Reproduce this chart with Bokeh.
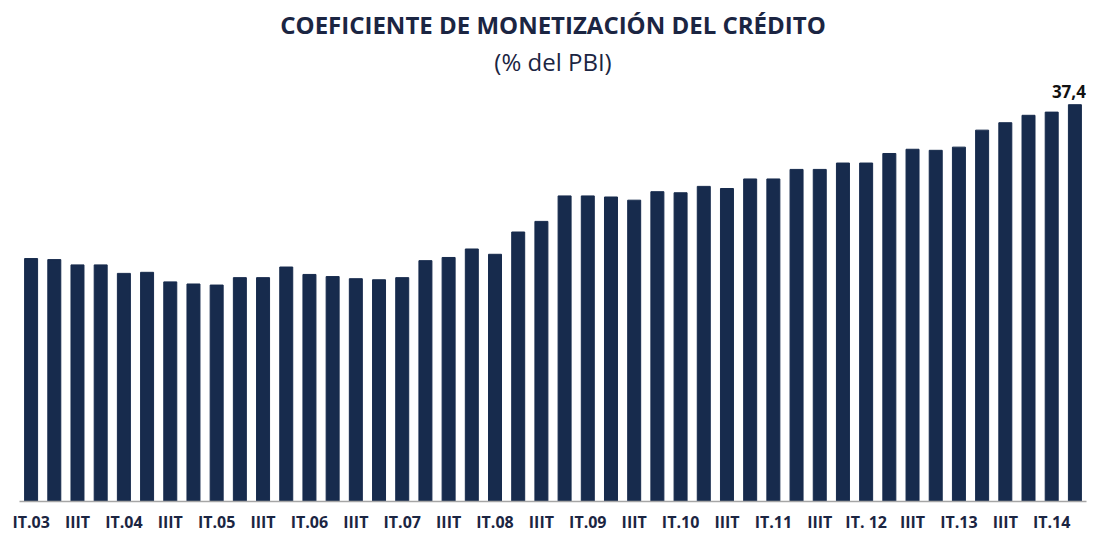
from bokeh.plotting import figure
from bokeh.models import Title, ColumnDataSource, Range1d, FixedTicker, LabelSet
from bokeh.core.properties import value
from bokeh.embed import file_html
from bokeh.resources import INLINE

years = ["03", "04", "05", "06", "07", "08", "09", "10", "11", "12", "13", "14"]
quarters = ["IT", "IIT", "IIIT", "IVT"]
categories = [f"{q}.{y}" for y in years for q in quarters][:46]

values = [22.9, 22.8, 22.3, 22.3, 21.5, 21.6, 20.7, 20.5, 20.4, 21.1, 21.1, 22.1,
          21.4, 21.2, 21.0, 20.9, 21.1, 22.7, 23.0, 23.8, 23.3, 25.4, 26.4, 28.8,
          28.8, 28.7, 28.4, 29.2, 29.1, 29.7, 29.5, 30.4, 30.4, 31.3, 31.3, 31.9,
          31.9, 32.8, 33.2, 33.1, 33.4, 35.0, 35.7, 36.4, 36.7, 37.4]

# tick labels shown every other quarter (IT and IIIT)
tick_labels = {}
for i, c in enumerate(categories):
    q, y = c.split(".")
    if q == "IT":
        tick_labels[i] = "IT. 12" if y == "12" else f"IT.{y}"
    elif q == "IIIT":
        tick_labels[i] = "IIIT"

title_text = "COEFICIENTE DE MONETIZACIÓN DEL CRÉDITO"
subtitle_text = "(% del PBI)"
last_label = "37,4"

NAVY = "#172b4d"
TEXT = "#1b2542"

xs = list(range(len(categories)))
src = ColumnDataSource(dict(x=xs, cat=categories, val=values))
lab = ColumnDataSource(dict(x=[xs[-1]], val=[values[-1]], txt=[last_label]))

p = figure(width=1094, height=535, x_range=Range1d(-0.5, len(categories) - 0.5),
           y_range=Range1d(0, 39.68), output_backend="svg", toolbar_location=None,
           min_border_left=19, min_border_right=8, min_border_top=80, min_border_bottom=34)

p.add_layout(Title(text=subtitle_text, align="center", text_font="Open Sans",
                   text_font_size="24px", text_font_style="normal", text_color=TEXT,
                   standoff=5), "above")
p.add_layout(Title(text=title_text, align="center", text_font="Open Sans",
                   text_font_size="24px", text_font_style="bold", text_color=TEXT,
                   standoff=0), "above")

p.vbar(x="x", top="val", width=0.56, source=src, color=NAVY)
p.add_layout(LabelSet(x="x", y="val", text="txt", source=lab, text_align="center",
                      text_baseline="bottom", y_offset=7, x_offset=-6,
                      text_font=value("Open Sans"), text_font_size=value("17px"),
                      text_font_style="bold", text_color="#111111"))

p.yaxis.visible = False
p.xgrid.visible = False
p.ygrid.visible = False
p.outline_line_color = None
p.background_fill_color = "white"
p.border_fill_color = "white"

ax = p.xaxis[0]
ax.ticker = FixedTicker(ticks=sorted(tick_labels.keys()))
ax.axis_line_color = "#a6a6a6"
ax.axis_line_width = 1.5
ax.major_tick_line_color = None
ax.minor_tick_line_color = None
ax.major_tick_out = 0
ax.major_tick_in = 0
ax.major_label_standoff = 9
ax.major_label_overrides = tick_labels
ax.major_label_text_font = "Open Sans"
ax.major_label_text_font_size = "16px"
ax.major_label_text_font_style = "bold"
ax.major_label_text_color = TEXT

open("out.html", "w").write(file_html(p, INLINE))
